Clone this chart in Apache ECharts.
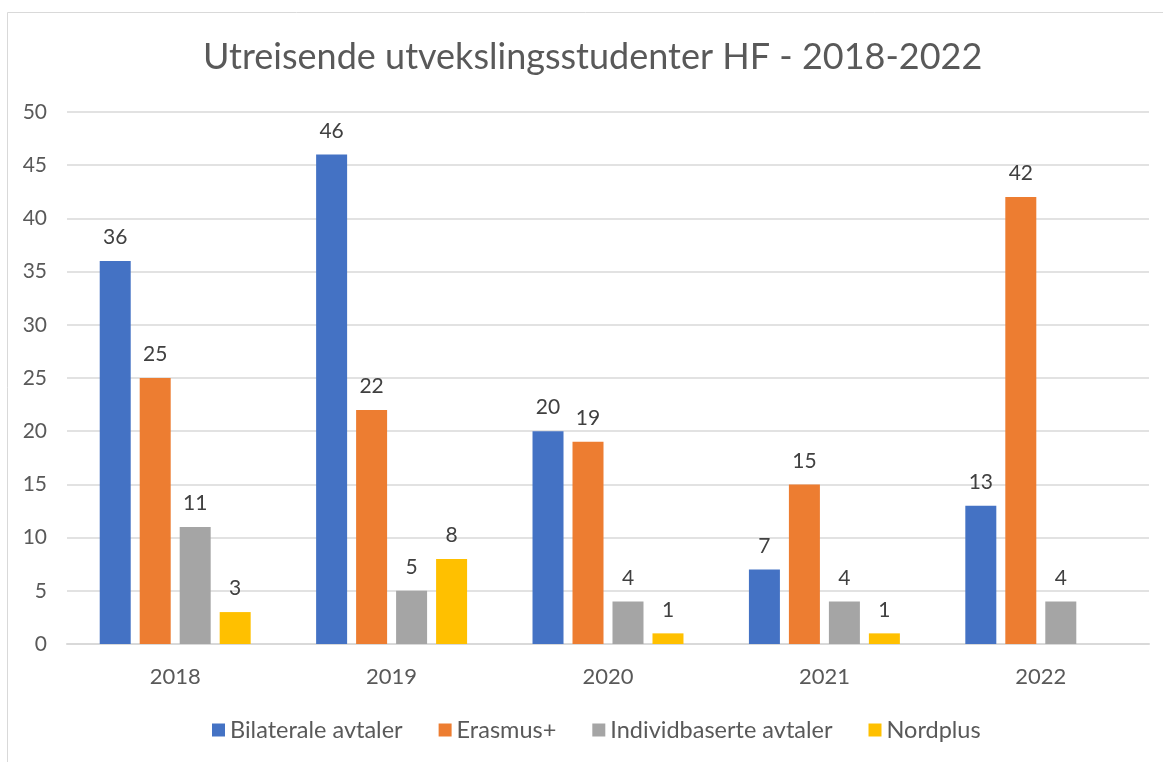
<!DOCTYPE html>
<html>
<head>
<meta charset="utf-8">
<script src="https://cdn.jsdelivr.net/npm/echarts@6/dist/echarts.min.js"></script>
<style>
  html, body { margin: 0; padding: 0; background: #fff; }
  #chart { width: 1163px; height: 762px; }
</style>
</head>
<body>
<div id="chart"></div>
<script>
const years = ['2018', '2019', '2020', '2021', '2022'];
const bilaterale = [36, 46, 20, 7, 13];
const erasmus = [25, 22, 19, 15, 42];
const individbaserte = [11, 5, 4, 4, 4];
const nordplus = [3, 8, 1, 1, null];

const FONT = 'Lato';
const labelStyle = { show: true, position: 'top', distance: 13, color: '#404040', fontFamily: FONT, fontSize: 21 };

function bar(name, data, color) {
  return {
    name: name,
    type: 'bar',
    data: data,
    barWidth: 31,
    barGap: '29%',
    itemStyle: { color: color },
    label: labelStyle
  };
}

const chart = echarts.init(document.getElementById('chart'));
chart.setOption({
  backgroundColor: '#fff',
  animation: false,
  graphic: [{
    type: 'rect',
    shape: { x: 7.5, y: 12.5, width: 1170, height: 760 },
    style: { fill: 'none', stroke: '#d9d9d9', lineWidth: 1 },
    silent: true
  }],
  title: {
    text: 'Utreisende utvekslingsstudenter HF - 2018-2022',
    left: 198,
    top: 34,
    textStyle: { color: '#595959', fontFamily: FONT, fontSize: 36, fontWeight: 'normal' }
  },
  legend: {
    top: 713,
    left: 207,
    itemWidth: 13,
    itemHeight: 13,
    itemGap: 36,
    icon: 'rect',
    textStyle: { color: '#595959', fontFamily: FONT, fontSize: 23.5 }
  },
  grid: { left: 67, right: 14, top: 112, bottom: 118, containLabel: false },
  xAxis: {
    type: 'category',
    data: years,
    axisLine: { lineStyle: { color: '#d9d9d9', width: 2 } },
    axisTick: { show: false },
    axisLabel: { color: '#595959', fontFamily: FONT, fontSize: 22, margin: 22 }
  },
  yAxis: {
    type: 'value',
    min: 0,
    max: 50,
    interval: 5,
    axisLine: { show: false },
    axisTick: { show: false },
    splitLine: { lineStyle: { color: '#d9d9d9', width: 1.5 } },
    axisLabel: { color: '#595959', fontFamily: FONT, fontSize: 21, margin: 20 }
  },
  series: [
    bar('Bilaterale avtaler', bilaterale, '#4472C4'),
    bar('Erasmus+', erasmus, '#ED7D31'),
    bar('Individbaserte avtaler', individbaserte, '#A5A5A5'),
    bar('Nordplus', nordplus, '#FFC000')
  ]
});
</script>
</body>
</html>
